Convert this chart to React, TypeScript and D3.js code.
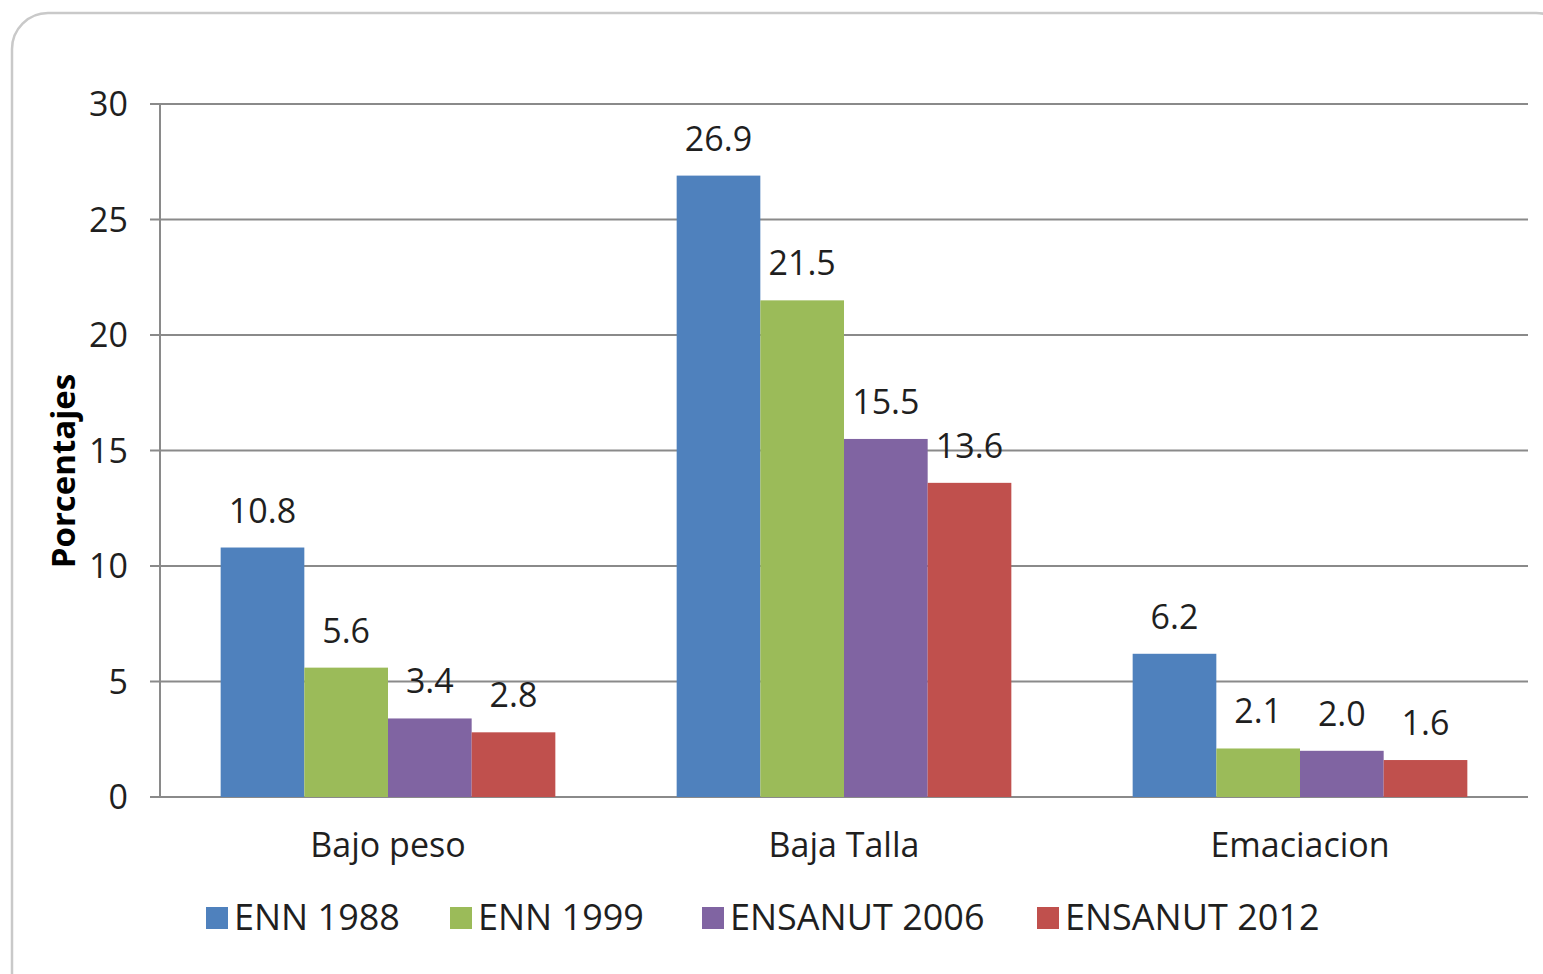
import React from "react";
import * as d3 from "d3";

const categories = ["Bajo peso", "Baja Talla", "Emaciacion"];
const seriesNames = ["ENN 1988", "ENN 1999", "ENSANUT 2006", "ENSANUT 2012"];
const seriesColors = ["#4F81BD", "#9BBB59", "#8064A2", "#C0504D"];
const enn1988 = [10.8, 26.9, 6.2];
const enn1999 = [5.6, 21.5, 2.1];
const ensanut2006 = [3.4, 15.5, 2.0];
const ensanut2012 = [2.8, 13.6, 1.6];
const seriesValues = [enn1988, enn1999, ensanut2006, ensanut2012];
const yTicks = [0, 5, 10, 15, 20, 25, 30];
const yTitle = "Porcentajes";

const W = 1543;
const H = 974;
const left = 160;
const right = 1528;
const top = 104;
const bottom = 797;
const font = "'Open Sans', 'Noto Sans', sans-serif";
const textColor = "#1f1f1f";
const fs = 34;

export default function App() {
  const x0 = d3.scaleBand<string>().domain(categories).range([left, right]).padding(0);
  const bw = x0.bandwidth();
  const gap = (bw * 1.45) / 5.45 / 2;
  const x1 = d3
    .scaleBand<string>()
    .domain(seriesNames)
    .range([gap, bw - gap])
    .padding(0);
  const y = d3.scaleLinear().domain([0, 30]).range([bottom, top]);

  const legendX = [206, 450, 702, 1037];

  return (
    <div style={{ position: "absolute", left: 0, top: 0 }}>
      <svg width={W} height={H} style={{ display: "block", background: "#fff" }}>
        <rect x={12} y={13} width={1560} height={1000} rx={36} ry={36} fill="#fff" stroke="#c9c9c9" strokeWidth={2.5} />
        {yTicks.map((t) => (
          <g key={t}>
            <line x1={150} x2={right} y1={y(t)} y2={y(t)} stroke="#8a8a8a" strokeWidth={2} />
            <text
              x={128}
              y={y(t)}
              dy="0.36em"
              textAnchor="end"
              fontFamily={font}
              fontSize={fs}
              fill={textColor}
            >
              {t}
            </text>
          </g>
        ))}
        <line x1={left} x2={left} y1={top} y2={bottom} stroke="#8a8a8a" strokeWidth={2} />
        {categories.map((c, ci) => (
          <g key={c}>
            {seriesNames.map((s, si) => {
              const v = seriesValues[si][ci];
              const bx = (x0(c) ?? 0) + (x1(s) ?? 0);
              return (
                <g key={s}>
                  <rect x={bx} y={y(v)} width={x1.bandwidth()} height={bottom - y(v)} fill={seriesColors[si]} />
                  <text
                    x={bx + x1.bandwidth() / 2}
                    y={y(v) - 25}
                    textAnchor="middle"
                    fontFamily={font}
                    fontSize={fs}
                    fill={textColor}
                  >
                    {v.toFixed(1)}
                  </text>
                </g>
              );
            })}
            <text
              x={(x0(c) ?? 0) + bw / 2}
              y={857}
              textAnchor="middle"
              fontFamily={font}
              fontSize={fs}
              fill={textColor}
            >
              {c}
            </text>
          </g>
        ))}
        <text
          transform={`translate(75,471) rotate(-90)`}
          textAnchor="middle"
          fontFamily={font}
          fontWeight="bold"
          fontSize={33}
          fill="#000"
        >
          {yTitle}
        </text>
        {seriesNames.map((s, si) => (
          <g key={s}>
            <rect x={legendX[si]} y={907} width={22} height={22} fill={seriesColors[si]} />
            <text x={legendX[si] + 28} y={930} fontFamily={font} fontSize={36} fill={textColor}>
              {s}
            </text>
          </g>
        ))}
      </svg>
    </div>
  );
}
